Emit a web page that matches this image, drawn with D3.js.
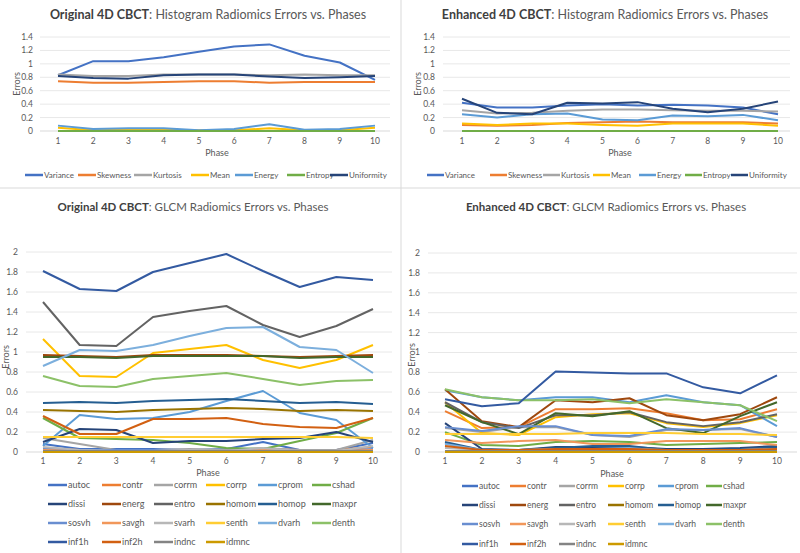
<!DOCTYPE html>
<html><head><meta charset="utf-8">
<script src="https://cdn.jsdelivr.net/npm/d3@7"></script>
<style>
html,body{margin:0;padding:0;background:#fff;}
svg{display:block;font-family:Lato,"Open Sans",sans-serif;}
</style></head>
<body>
<svg id="c" width="800" height="553"></svg>
<script>
// ---------- DATA ----------
const phases = [1,2,3,4,5,6,7,8,9,10];

const histNames = ["Variance","Skewness","Kurtosis","Mean","Energy","Entropy","Uniformity"];
const histColors = ["#4472C4","#ED7D31","#A5A5A5","#FFC000","#5B9BD5","#70AD47","#264478"];
const histTicks = [0,0.2,0.4,0.6,0.8,1,1.2,1.4];

const origHist = [
  [0.83,1.04,1.04,1.10,1.18,1.26,1.29,1.12,1.02,0.76],
  [0.74,0.72,0.72,0.73,0.74,0.74,0.72,0.73,0.73,0.73],
  [0.84,0.82,0.82,0.84,0.84,0.84,0.83,0.84,0.83,0.83],
  [0.05,0.01,0.02,0.02,0.01,0.01,0.04,0.01,0.01,0.05],
  [0.08,0.03,0.04,0.04,0.01,0.03,0.10,0.02,0.03,0.08],
  [0.00,0.00,0.00,0.00,0.00,0.00,0.00,0.00,0.00,0.00],
  [0.82,0.79,0.78,0.83,0.84,0.84,0.81,0.79,0.80,0.82]
];
const enhHist = [
  [0.42,0.35,0.35,0.38,0.40,0.38,0.39,0.38,0.35,0.25],
  [0.09,0.08,0.09,0.12,0.13,0.14,0.13,0.13,0.13,0.11],
  [0.31,0.26,0.27,0.30,0.32,0.32,0.31,0.30,0.30,0.29],
  [0.11,0.09,0.11,0.11,0.09,0.08,0.11,0.11,0.11,0.08],
  [0.25,0.20,0.25,0.26,0.17,0.16,0.23,0.22,0.24,0.16],
  [0.00,0.00,0.00,0.00,0.00,0.00,0.00,0.00,0.00,0.00],
  [0.48,0.27,0.25,0.42,0.41,0.43,0.33,0.28,0.33,0.44]
];

const glcmNames = ["autoc","contr","corrm","corrp","cprom","cshad","dissi","energ","entro","homom","homop","maxpr",
                   "sosvh","savgh","svarh","senth","dvarh","denth","inf1h","inf2h","indnc","idmnc"];
const glcmColors = ["#4472C4","#ED7D31","#A5A5A5","#FFC000","#5B9BD5","#70AD47","#264478","#9E480E","#636363","#997300","#255E91","#43682B",
                    "#698ED0","#F1975A","#B7B7B7","#FFCD33","#7CAFDD","#8CC168","#335AA1","#D26012","#848484","#CC9A00"];
const glcmTicks = [0,0.2,0.4,0.6,0.8,1,1.2,1.4,1.6,1.8,2];

const origGlcm = [
  [0.08,0.03,0.03,0.03,0.02,0.03,0.10,0.02,0.02,0.09],
  [0.04,0.02,0.02,0.02,0.02,0.02,0.03,0.02,0.02,0.05],
  [0.14,0.08,0.02,0.02,0.03,0.02,0.04,0.02,0.02,0.12],
  [1.13,0.76,0.75,0.99,1.03,1.07,0.92,0.84,0.92,1.07],
  [0.06,0.37,0.33,0.34,0.40,0.51,0.61,0.39,0.32,0.04],
  [0.34,0.14,0.13,0.12,0.09,0.04,0.03,0.11,0.19,0.34],
  [0.10,0.23,0.22,0.09,0.11,0.11,0.13,0.14,0.20,0.10],
  [0.97,0.96,0.95,0.97,0.97,0.97,0.96,0.95,0.96,0.97],
  [1.50,1.07,1.06,1.35,1.41,1.46,1.27,1.15,1.26,1.43],
  [0.42,0.41,0.40,0.42,0.43,0.44,0.43,0.41,0.42,0.41],
  [0.49,0.50,0.49,0.51,0.52,0.53,0.51,0.49,0.50,0.48],
  [0.95,0.95,0.94,0.96,0.96,0.96,0.96,0.94,0.95,0.95],
  [0.03,0.02,0.02,0.02,0.01,0.01,0.02,0.01,0.01,0.03],
  [0.02,0.01,0.01,0.01,0.01,0.01,0.02,0.01,0.01,0.02],
  [0.05,0.02,0.01,0.01,0.02,0.01,0.04,0.01,0.01,0.06],
  [0.15,0.15,0.15,0.15,0.15,0.15,0.15,0.15,0.15,0.14],
  [0.86,1.02,1.01,1.07,1.16,1.24,1.25,1.05,1.02,0.79],
  [0.76,0.66,0.65,0.73,0.76,0.79,0.73,0.67,0.71,0.72],
  [1.81,1.63,1.61,1.80,1.89,1.98,1.81,1.65,1.75,1.72],
  [0.36,0.18,0.18,0.33,0.33,0.34,0.28,0.25,0.24,0.34],
  [0.01,0.01,0.01,0.01,0.01,0.01,0.01,0.01,0.01,0.01],
  [0.00,0.00,0.00,0.00,0.00,0.00,0.00,0.00,0.00,0.00]
];
const enhGlcm = [
  [0.09,0.01,0.01,0.04,0.05,0.05,0.01,0.01,0.02,0.04],
  [0.41,0.24,0.25,0.43,0.43,0.44,0.39,0.32,0.33,0.43],
  [0.24,0.20,0.25,0.25,0.17,0.15,0.22,0.22,0.23,0.15],
  [0.50,0.19,0.17,0.35,0.38,0.39,0.29,0.25,0.29,0.37],
  [0.62,0.55,0.52,0.55,0.55,0.50,0.57,0.50,0.47,0.26],
  [0.20,0.07,0.06,0.10,0.11,0.10,0.07,0.08,0.09,0.10],
  [0.29,0.03,0.02,0.05,0.05,0.05,0.03,0.03,0.04,0.06],
  [0.63,0.31,0.25,0.52,0.50,0.54,0.37,0.32,0.38,0.55],
  [0.50,0.30,0.24,0.37,0.37,0.40,0.30,0.26,0.30,0.38],
  [0.01,0.01,0.01,0.01,0.01,0.01,0.01,0.01,0.01,0.01],
  [0.10,0.02,0.02,0.04,0.06,0.06,0.02,0.02,0.03,0.05],
  [0.47,0.30,0.18,0.39,0.36,0.41,0.24,0.19,0.36,0.50],
  [0.25,0.21,0.26,0.26,0.17,0.16,0.23,0.22,0.24,0.15],
  [0.12,0.09,0.11,0.12,0.08,0.08,0.11,0.11,0.11,0.07],
  [0.04,0.02,0.02,0.03,0.03,0.03,0.02,0.02,0.02,0.03],
  [0.18,0.18,0.18,0.18,0.19,0.19,0.19,0.18,0.18,0.17],
  [0.08,0.02,0.01,0.03,0.03,0.04,0.01,0.02,0.02,0.03],
  [0.63,0.55,0.52,0.52,0.53,0.49,0.53,0.50,0.47,0.31],
  [0.53,0.46,0.49,0.81,0.80,0.79,0.79,0.65,0.59,0.77],
  [0.06,0.02,0.02,0.03,0.03,0.03,0.02,0.02,0.02,0.03],
  [0.01,0.01,0.01,0.01,0.01,0.01,0.01,0.01,0.01,0.01],
  [0.00,0.00,0.00,0.00,0.00,0.00,0.00,0.00,0.00,0.00]
];

// ---------- DRAW ----------
const svg = d3.select("#c");
svg.append("rect").attr("width",800).attr("height",553).attr("fill","#fff");

function panel(cfg){
  const g = svg.append("g");
  const x = d3.scaleLinear().domain([1,10]).range(cfg.xr);
  const y = d3.scaleLinear().domain([0,cfg.ymax]).range(cfg.yr);
  const fmt = d3.format("~g");
  g.selectAll(".grid").data(cfg.ticks).join("line")
    .attr("x1",cfg.gx[0]).attr("x2",cfg.gx[1])
    .attr("y1",d=>y(d)).attr("y2",d=>y(d))
    .attr("stroke",d=>d===0?"#d9d9d9":"#e8e8e8").attr("stroke-width",1);
  g.selectAll(".yt").data(cfg.ticks).join("text")
    .attr("x",cfg.ylx).attr("y",d=>y(d)).attr("dy","0.35em")
    .attr("text-anchor","end").attr("font-size",cfg.tfs).attr("fill","#595959").text(fmt);
  g.selectAll(".xt").data(phases).join("text")
    .attr("x",d=>x(d)).attr("y",cfg.xly).attr("dy","0.35em")
    .attr("text-anchor","middle").attr("font-size",cfg.tfs).attr("fill","#595959").text(d=>d);
  g.append("text").attr("x",cfg.phase[0]).attr("y",cfg.phase[1]).attr("dy","0.35em")
    .attr("text-anchor","middle").attr("font-size",cfg.afs).attr("fill","#595959").text("Phase");
  g.append("text").attr("transform",`translate(${cfg.err[0]},${cfg.err[1]}) rotate(-90)`).attr("dy","0.35em")
    .attr("text-anchor","middle").attr("font-size",cfg.afs).attr("fill","#595959").text("Errors");
  const t = g.append("text").attr("x",cfg.title[0]).attr("y",cfg.title[1]).attr("dy","0.35em")
    .attr("text-anchor","middle").attr("font-size",cfg.titfs).attr("fill","#595959");
  t.append("tspan").attr("font-weight","bold").attr("fill","#404040").text(cfg.bold);
  t.append("tspan").text(cfg.rest);
  const line = d3.line().x((d,i)=>x(phases[i])).y(d=>y(d));
  const series = cfg.values.map((v,i)=>({v,c:cfg.colors[i],n:cfg.names[i]}));
  g.selectAll(".ln").data(series).join("path")
    .attr("d",d=>line(d.v)).attr("fill","none").attr("stroke",d=>d.c)
    .attr("stroke-width",2).attr("stroke-linejoin","round");
  const lg = g.selectAll(".lg").data(series).join("g")
    .attr("transform",(d,i)=>`translate(${cfg.legX(i)},${cfg.legY(i)})`);
  lg.append("line").attr("x1",0).attr("x2",cfg.sw).attr("y1",0).attr("y2",0)
    .attr("stroke",d=>d.c).attr("stroke-width",2.5);
  lg.append("text").attr("x",cfg.sw+1).attr("y",0).attr("dy","0.35em")
    .attr("font-size",cfg.lfs).attr("fill","#595959").text(d=>d.n);
}

const tlLeg = [25,78,134,191,235,287,330];
const trLeg = [427,490,543,593,639,685,731];
panel({xr:[58,375],yr:[131,37],gx:[40,390],ymax:1.4,ticks:histTicks,ylx:33,xly:141,tfs:8.5,afs:9,
  phase:[217,153],err:[17,84],title:[208,15],titfs:12.5,bold:"Original 4D CBCT",rest:": Histogram Radiomics Errors vs. Phases",
  values:origHist,colors:histColors,names:histNames,legX:i=>tlLeg[i],legY:()=>175,sw:18,lfs:8});
panel({xr:[462,778],yr:[131,37],gx:[443,790],ymax:1.4,ticks:histTicks,ylx:435,xly:141,tfs:8.5,afs:9,
  phase:[620,153],err:[418,84],title:[605,15],titfs:12.5,bold:"Enhanced 4D CBCT",rest:": Histogram Radiomics Errors vs. Phases",
  values:enhHist,colors:histColors,names:histNames,legX:i=>trLeg[i],legY:()=>175,sw:17,lfs:8});

const blCols=[48,102,154,206,258,312], blRows=[485,504,523,542];
const brCols=[462,510,559,608,658,706], brRows=[486,505,524,544];
panel({xr:[43,373],yr:[452,252],gx:[26,392],ymax:2,ticks:glcmTicks,ylx:18,xly:461,tfs:8.5,afs:9,
  phase:[208,473],err:[6,357],title:[193,207],titfs:11.5,bold:"Original 4D CBCT",rest:": GLCM Radiomics Errors vs. Phases",
  values:origGlcm,colors:glcmColors,names:glcmNames,legX:i=>blCols[i%6],legY:i=>blRows[Math.floor(i/6)],sw:19,lfs:9});
panel({xr:[445,777],yr:[452,253],gx:[428,797],ymax:2,ticks:glcmTicks,ylx:420,xly:461,tfs:8.5,afs:9,
  phase:[612,474],err:[412,355],title:[606,207],titfs:11.5,bold:"Enhanced 4D CBCT",rest:": GLCM Radiomics Errors vs. Phases",
  values:enhGlcm,colors:glcmColors,names:glcmNames,legX:i=>brCols[i%6],legY:i=>brRows[Math.floor(i/6)],sw:16,lfs:8.5});

svg.append("line").attr("x1",0).attr("x2",800).attr("y1",188).attr("y2",188).attr("stroke","#d9d9d9");
svg.append("line").attr("x1",401).attr("x2",401).attr("y1",0).attr("y2",553).attr("stroke","#d9d9d9");
</script>
</body></html>
